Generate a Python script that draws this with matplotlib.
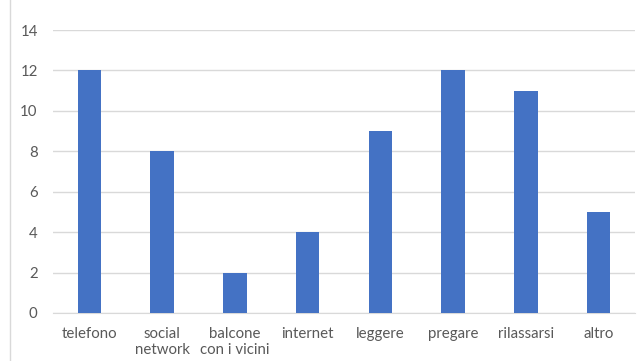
import matplotlib
matplotlib.use("Agg")
import matplotlib.pyplot as plt
from matplotlib.patches import Rectangle

categories = ["telefono", "social\nnetwork", "balcone\ncon i vicini", "internet",
              "leggere", "pregare", "rilassarsi", "altro"]
values = [12, 8, 2, 4, 9, 12, 11, 5]
yticks = [0, 2, 4, 6, 8, 10, 12, 14]

plt.rcParams['font.family'] = ['Lato', 'DejaVu Sans']
fig = plt.figure(figsize=(6.44, 3.61), dpi=100)
fig.patch.set_facecolor("white")

# outer chart border (cropped at right/bottom)
border = Rectangle((10/644, -0.2), 1.5, 1.2 + (1 - 12/361), transform=fig.transFigure,
                   fill=False, edgecolor="#D9D9D9", linewidth=1.0, clip_on=False)
fig.patches.append(border)

ax = fig.add_axes([53/644, 1 - 313/361, (635 - 53)/644, (313 - 30)/361])
x = list(range(len(categories)))
ax.bar(x, values, width=0.32, color="#4472C4", zorder=3)
ax.set_xlim(-0.5, len(categories) - 0.5)
ax.set_ylim(0, 14)
ax.set_yticks(yticks)
ax.set_yticklabels([str(t) for t in yticks])
ax.set_xticks(x)
ax.set_xticklabels(categories, linespacing=1.15, va="top")
ax.grid(axis="y", color="#D9D9D9", linewidth=1.0, zorder=0)
for s in ["top", "right", "left"]:
    ax.spines[s].set_visible(False)
ax.spines["bottom"].set_color("#D9D9D9")
ax.tick_params(axis="both", length=0, colors="#595959", labelsize=10.8)
ax.tick_params(axis="y", pad=11)
ax.tick_params(axis="x", pad=10)

fig.savefig("out.png", dpi=100)
